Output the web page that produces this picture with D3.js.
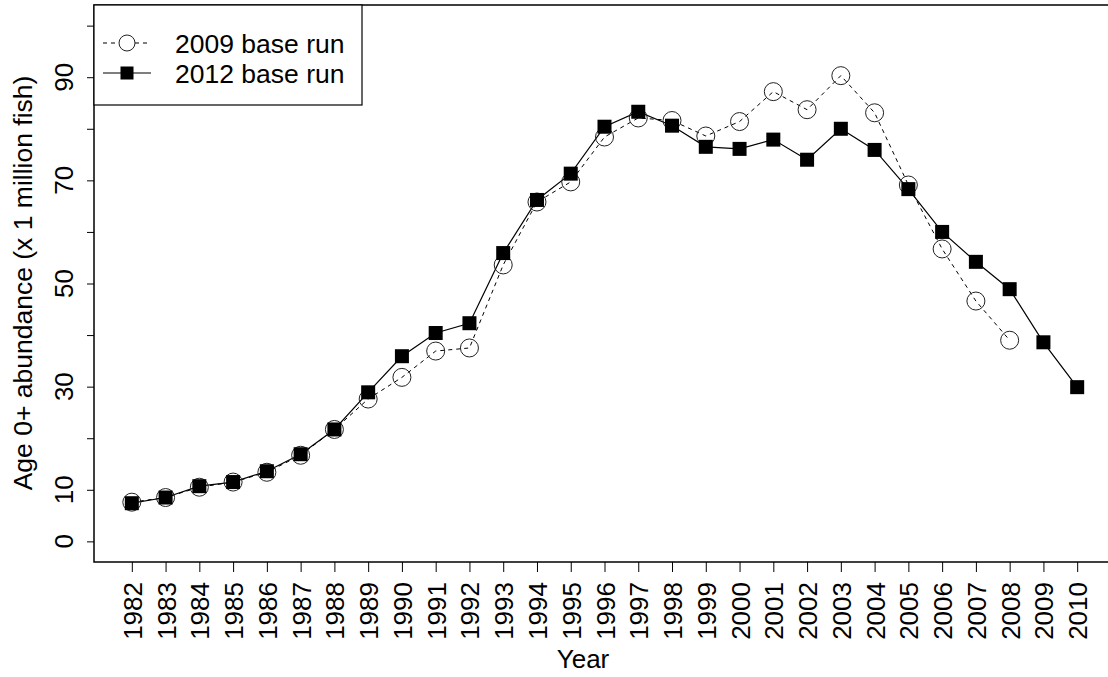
<!DOCTYPE html>
<html>
<head>
<meta charset="utf-8">
<script src="https://cdn.jsdelivr.net/npm/d3@7"></script>
<style>
  body { margin: 0; background: #fff; }
  svg { display: block; font-family: "Liberation Sans", Arial, sans-serif; }
</style>
</head>
<body>
<svg id="chart" width="1108" height="677"></svg>
<script>
// data
var years = [1982, 1983, 1984, 1985, 1986, 1987, 1988, 1989, 1990, 1991, 1992, 1993, 1994, 1995,
             1996, 1997, 1998, 1999, 2000, 2001, 2002, 2003, 2004, 2005, 2006, 2007, 2008, 2009, 2010];
var run2009 = [7.6, 8.5, 10.5, 11.5, 13.4, 16.7, 21.7, 27.6, 31.8, 36.9, 37.5, 53.6, 65.8, 69.7,
               78.4, 82.1, 81.6, 78.6, 81.4, 87.2, 83.7, 90.3, 83.1, 69.1, 56.7, 46.6, 39.0];
var run2012 = [7.4, 8.5, 10.7, 11.5, 13.6, 16.9, 21.7, 28.9, 35.9, 40.4, 42.3, 55.9, 66.2, 71.3,
               80.4, 83.3, 80.6, 76.5, 76.1, 77.9, 74.0, 80.0, 75.9, 68.3, 60.0, 54.2, 48.9, 38.6, 29.9];
var yTicks = [0, 10, 20, 30, 40, 50, 60, 70, 80, 90, 100];
var yLabels = [0, 10, 30, 50, 70, 90];
var seriesNames = ["2009 base run", "2012 base run"];

var svg = d3.select("#chart");

// plot box (right side runs off the picture)
var boxL = 94, boxR = 1115, boxT = 5, boxB = 562;

var x = d3.scaleLinear().domain([1980.88, 2011.12]).range([boxL, boxR]);
var y = d3.scaleLinear().domain([-4, 104]).range([boxB, boxT]);

// box
svg.append("rect")
  .attr("x", boxL).attr("y", boxT)
  .attr("width", boxR - boxL).attr("height", boxB - boxT)
  .attr("fill", "none").attr("stroke", "#000").attr("stroke-width", 1.5);

// y axis
var yAxis = svg.append("g")
  .attr("transform", "translate(" + boxL + ",0)")
  .call(d3.axisLeft(y).tickValues(yTicks).tickSize(7).tickFormat(""));
yAxis.select(".domain").remove();
yAxis.selectAll("line").attr("stroke", "#000");

svg.append("g").selectAll("text")
  .data(yLabels).enter().append("text")
  .attr("transform", function(d) { return "translate(73," + y(d) + ") rotate(-90)"; })
  .attr("text-anchor", "middle")
  .attr("font-size", 26)
  .text(function(d) { return d; });

// x axis
var xAxis = svg.append("g")
  .attr("transform", "translate(0," + boxB + ")")
  .call(d3.axisBottom(x).tickValues(years).tickSize(10).tickFormat(""));
xAxis.select(".domain").remove();
xAxis.selectAll("line").attr("stroke", "#000");

svg.append("g").selectAll("text")
  .data(years).enter().append("text")
  .attr("transform", function(d) { return "translate(" + (x(d) + 10) + ",582) rotate(-90)"; })
  .attr("text-anchor", "end")
  .attr("font-size", 26)
  .text(function(d) { return d; });

// axis titles
svg.append("text")
  .attr("x", 583).attr("y", 668)
  .attr("text-anchor", "middle")
  .attr("font-size", 26)
  .text("Year");

svg.append("text")
  .attr("transform", "translate(32,283) rotate(-90)")
  .attr("text-anchor", "middle")
  .attr("font-size", 26.5)
  .text("Age 0+ abundance (x 1 million fish)");

// series
var line = d3.line()
  .x(function(d, i) { return x(years[i]); })
  .y(function(d) { return y(d); });

svg.append("path")
  .datum(run2009)
  .attr("d", line)
  .attr("fill", "none").attr("stroke", "#000").attr("stroke-width", 1)
  .attr("stroke-dasharray", "4,4");

svg.append("path")
  .datum(run2012)
  .attr("d", line)
  .attr("fill", "none").attr("stroke", "#000").attr("stroke-width", 1.2);

svg.append("g").selectAll("circle")
  .data(run2009).enter().append("circle")
  .attr("cx", function(d, i) { return x(years[i]); })
  .attr("cy", function(d) { return y(d); })
  .attr("r", 9)
  .attr("fill", "none").attr("stroke", "#222").attr("stroke-width", 1);

var sq = 14;
svg.append("g").selectAll("rect")
  .data(run2012).enter().append("rect")
  .attr("x", function(d, i) { return x(years[i]) - sq / 2; })
  .attr("y", function(d) { return y(d) - sq / 2; })
  .attr("width", sq).attr("height", sq)
  .attr("fill", "#000");

// legend
var legend = svg.append("g");
legend.append("rect")
  .attr("x", boxL).attr("y", boxT)
  .attr("width", 362 - boxL).attr("height", 105 - boxT)
  .attr("fill", "#fff").attr("stroke", "#000").attr("stroke-width", 1.2);

var rowY = [43, 73];
legend.append("line")
  .attr("x1", 103).attr("x2", 151).attr("y1", rowY[0]).attr("y2", rowY[0])
  .attr("stroke", "#000").attr("stroke-dasharray", "4,4");
legend.append("circle")
  .attr("cx", 127).attr("cy", rowY[0]).attr("r", 8)
  .attr("fill", "#fff").attr("stroke", "#222");
legend.append("line")
  .attr("x1", 103).attr("x2", 151).attr("y1", rowY[1]).attr("y2", rowY[1])
  .attr("stroke", "#000").attr("stroke-width", 1.2);
legend.append("rect")
  .attr("x", 127 - 6.5).attr("y", rowY[1] - 6.5).attr("width", 13).attr("height", 13)
  .attr("fill", "#000");

legend.selectAll("text.lab")
  .data(seriesNames).enter().append("text")
  .attr("class", "lab")
  .attr("x", 175)
  .attr("y", function(d, i) { return rowY[i] + 10; })
  .attr("font-size", 26.5)
  .text(function(d) { return d; });
</script>
</body>
</html>
